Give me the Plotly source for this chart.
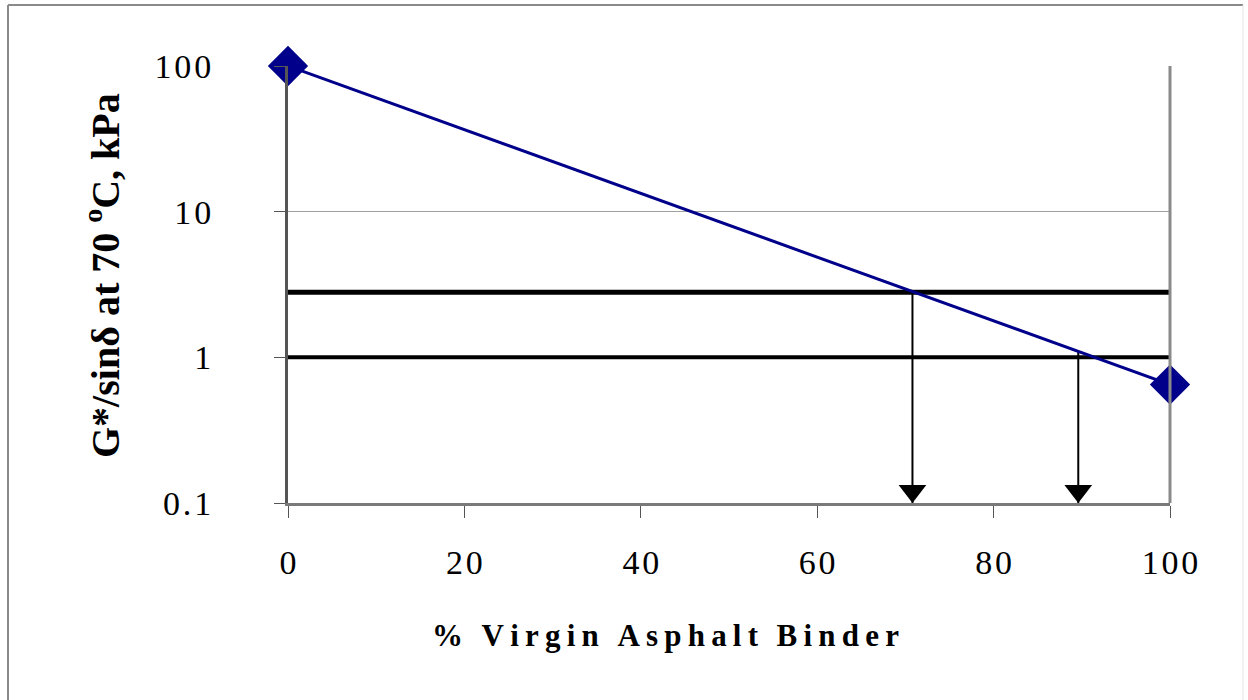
import plotly.graph_objects as go

# Measured stiffness of the binder blends
pct_virgin = [0, 100]
g_sin_delta = [100, 0.65]

# Specification limits (kPa) drawn as horizontal lines
criteria = [2.8, 1.0]
criteria_width = [5, 4]

blend_pct = [70.8, 89.6]
blend_from = [2.8, 1.1]

x_ticks = [0, 20, 40, 60, 80, 100]
y_ticks = [0.1, 1, 10, 100]
y_ticktext = ["0.1", "1", "10", "100"]

HS = "\u200a"  # hair space for the letter-spaced labels
TS = "\u2009"


def spaced(s, sep=HS):
    return sep.join(s)


L, R, T, B = 288, 78, 66, 197
W, H = 1248, 700
PW, PH = W - L - R, H - T - B


def px_x(px):
    return (px - L) / PW


def px_y(py):
    return (H - B - py) / PH


serif = "Liberation Serif"

fig = go.Figure()

for c, w in zip(criteria, criteria_width):
    fig.add_trace(go.Scatter(
        x=[x_ticks[0], x_ticks[-1]], y=[c, c], mode="lines",
        line=dict(color="black", width=w), hoverinfo="skip", showlegend=False,
    ))

# drop lines from the stiffness line down to the axis, ending in an arrowhead
for xv, yv in zip(blend_pct, blend_from):
    fig.add_trace(go.Scatter(
        x=[xv, xv], y=[yv, y_ticks[0]], mode="lines+markers",
        line=dict(color="black", width=2),
        marker=dict(symbol="triangle-up", size=[0, 24], angle=180,
                    standoff=12, color="black", opacity=1, line=dict(width=0)),
        cliponaxis=False, hoverinfo="skip", showlegend=False,
    ))

fig.add_trace(go.Scatter(
    x=pct_virgin, y=g_sin_delta, mode="lines+markers",
    line=dict(color="#00008b", width=3),
    marker=dict(symbol="diamond", size=31, color="#00008b"),
    cliponaxis=False, showlegend=False,
))

annotations = [
    dict(
        x=px_x(665), y=px_y(635), xref="paper", yref="paper",
        text="%" + TS * 3 + spaced("Virgin", TS) + TS * 3 + spaced("Asphalt", TS)
             + TS * 3 + spaced("Binder", TS),
        showarrow=False, xanchor="center", yanchor="middle",
        font=dict(family=serif, size=31, color="black", weight="bold"),
    ),
    dict(
        x=px_x(102), y=px_y(276), xref="paper", yref="paper",
        text="G*/sinδ at 70 <sup>o</sup>C, kPa", textangle=-90,
        showarrow=False, xanchor="center", yanchor="middle",
        font=dict(family=serif, size=40, color="black", weight="bold"),
    ),
]

shapes = [
    # right edge of the plotting area
    dict(type="line", xref="paper", yref="paper", x0=1, x1=1, y0=0, y1=1,
         line=dict(color="#8a8a8a", width=3)),
    # outer chart frame
    dict(type="line", xref="paper", yref="paper", x0=px_x(8), x1=px_x(8),
         y0=px_y(5), y1=px_y(700), line=dict(color="#8a8a8a", width=2)),
    dict(type="line", xref="paper", yref="paper", x0=px_x(8), x1=px_x(1243),
         y0=px_y(5), y1=px_y(5), line=dict(color="#8a8a8a", width=2)),
    dict(type="line", xref="paper", yref="paper", x0=px_x(1243), x1=px_x(1243),
         y0=px_y(5), y1=px_y(700), line=dict(color="#e6e6e6", width=1)),
]

fig.update_layout(
    width=W, height=H,
    margin=dict(l=L, r=R, t=T, b=B),
    paper_bgcolor="white", plot_bgcolor="white",
    showlegend=False,
    annotations=annotations, shapes=shapes,
    xaxis=dict(
        range=[0, 100], tickvals=x_ticks,
        ticktext=[spaced(str(v)) for v in x_ticks],
        showgrid=False, zeroline=False,
        showline=True, linecolor="#7a7a7a", linewidth=3,
        ticks="outside", ticklen=12, tickwidth=1, tickcolor="#555",
        ticklabelstandoff=15,
        tickfont=dict(family=serif, size=34, color="black"),
    ),
    yaxis=dict(
        type="log", range=[-1, 2], tickvals=y_ticks,
        ticktext=[spaced(t) for t in y_ticktext],
        showgrid=True, gridcolor="#a0a0a0", gridwidth=1, zeroline=False,
        showline=True, linecolor="#555", linewidth=3,
        ticks="outside", ticklen=11, tickwidth=1, tickcolor="#555",
        ticklabelstandoff=56,
        tickfont=dict(family=serif, size=34, color="black"),
    ),
)

fig.write_html("out.html")
